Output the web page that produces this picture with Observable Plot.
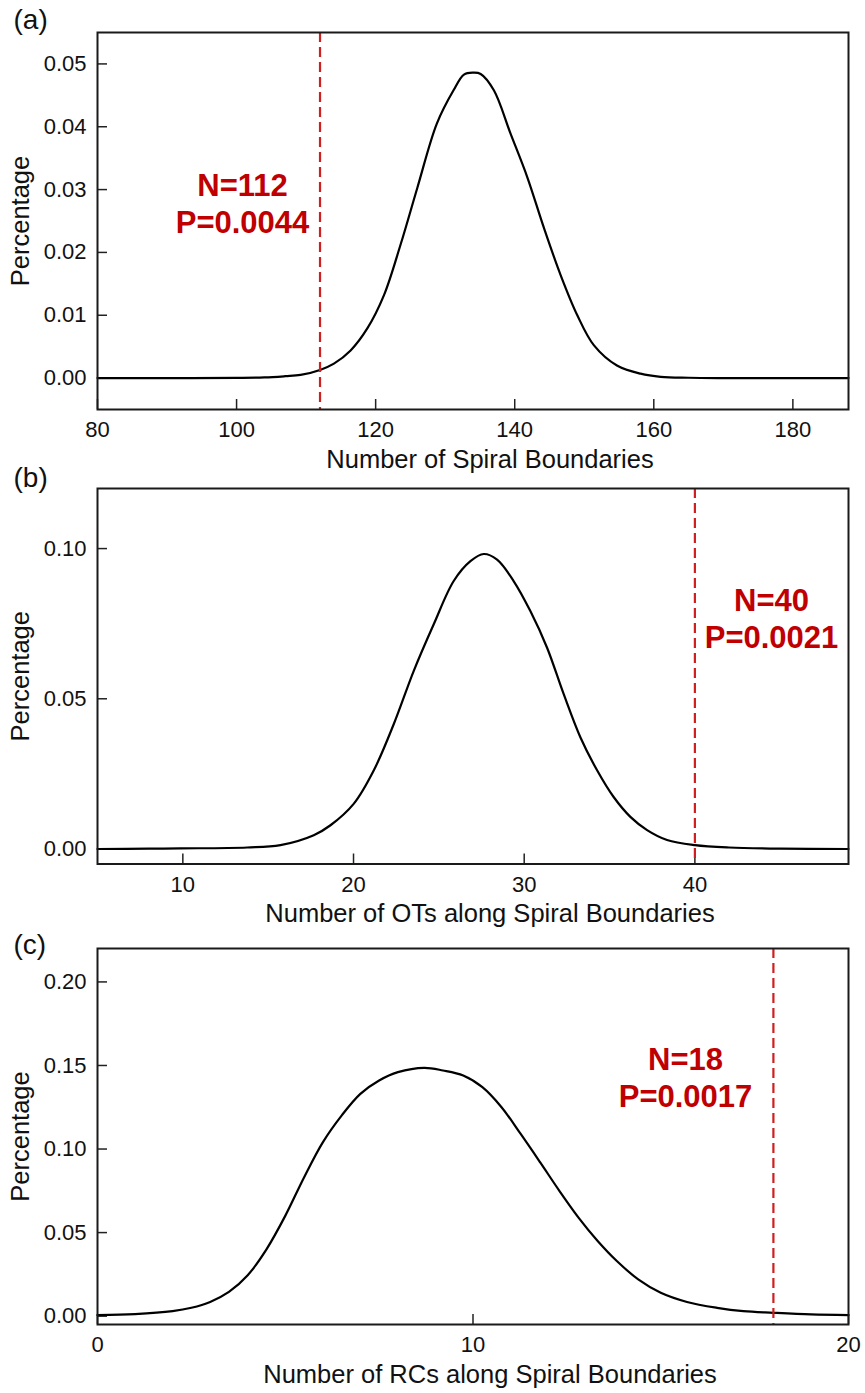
<!DOCTYPE html>
<html><head><meta charset="utf-8">
<script src="https://cdn.jsdelivr.net/npm/d3@7"></script>
<script src="https://cdn.jsdelivr.net/npm/@observablehq/plot@0.6"></script>
<style>
body{margin:0;background:#fff;}
#root{width:865px;height:1393px;position:relative;background:#fff;font-family:"Liberation Sans",Arial,sans-serif;}
#root > div{position:absolute;left:0;}
#root svg{display:block;overflow:visible;}
</style></head><body><div id="root"></div>
<script>
// ---- Panel (a): Number of Spiral Boundaries ----
const spiralX   = [80, 90, 100, 104, 107, 109.2, 112, 114, 116.4, 118.8, 121.2, 123.6, 126, 128.8, 131.2, 132.7, 134, 135.1, 137, 139.4, 141.8, 144.2, 146.6, 149, 151.4, 154.7, 158.1, 161, 165, 170, 188];
const spiralPct = [0, 0, 0.00003, 0.0001, 0.0003, 0.0005, 0.0013, 0.0023, 0.0044, 0.0079, 0.0132, 0.0213, 0.0303, 0.0405, 0.0458, 0.0483, 0.0486, 0.0484, 0.0458, 0.0389, 0.0320, 0.0239, 0.0164, 0.0100, 0.0052, 0.0020, 0.0007, 0.0002, 0.00005, 0, 0];
const spiralN = 112, spiralP = "0.0044";

// ---- Panel (b): Number of OTs along Spiral Boundaries ----
const otX   = [5, 8, 9.86, 13.77, 15.72, 17.67, 18.65, 20.02, 21.19, 22.36, 23.53, 24.70, 25.87, 26.85, 27.63, 28.41, 29.38, 30.36, 31.34, 32.31, 33.29, 34.27, 35.24, 36.22, 37.2, 38.37, 40, 42, 45, 49];
const otPct = [0, 0.0001, 0.0002, 0.0005, 0.0013, 0.0046, 0.0079, 0.0151, 0.0262, 0.0416, 0.0593, 0.0748, 0.0892, 0.0958, 0.0982, 0.0963, 0.0892, 0.0792, 0.0670, 0.0516, 0.0372, 0.0262, 0.0173, 0.0107, 0.0063, 0.0030, 0.0013, 0.0005, 0.0001, 0];
const otN = 40, otP = "0.0021";

// ---- Panel (c): Number of RCs along Spiral Boundaries ----
const rcX   = [0, 1, 2, 2.5, 3, 3.5, 4, 4.5, 5, 5.5, 6, 6.5, 7, 7.5, 8, 8.7, 9.2, 9.74, 10.25, 10.76, 11.27, 11.79, 12.3, 12.81, 13.32, 13.83, 14.4, 15.0, 15.7, 16.5, 17.2, 18, 19, 20];
const rcPct = [0.0006, 0.0012, 0.003, 0.005, 0.0085, 0.0145, 0.0245, 0.040, 0.060, 0.083, 0.104, 0.120, 0.133, 0.141, 0.146, 0.1486, 0.147, 0.144, 0.137, 0.125, 0.109, 0.092, 0.075, 0.059, 0.045, 0.033, 0.022, 0.014, 0.0085, 0.005, 0.003, 0.002, 0.001, 0.0006];
const rcN = 18, rcP = "0.0017";

// ---- axis ticks / labels ----
const aXTicks = [80, 100, 120, 140, 160, 180], aYTicks = [0, 0.01, 0.02, 0.03, 0.04, 0.05];
const bXTicks = [10, 20, 30, 40], bYTicks = [0, 0.05, 0.10];
const cXTicks = [0, 10, 20], cYTicks = [0, 0.05, 0.10, 0.15, 0.20];
const aXLabel = "Number of Spiral Boundaries";
const bXLabel = "Number of OTs along Spiral Boundaries";
const cXLabel = "Number of RCs along Spiral Boundaries";
const yLabel = "Percentage";

const FONT = '"Liberation Sans", Arial, sans-serif';
const RED_TEXT = "#c00000", RED_LINE = "#d01f1f";

function panel(c) {
  const data = c.xs.map((x, i) => ({x, y: c.ys[i]}));
  return Plot.plot({
    width: 865, height: c.height,
    marginLeft: 97, marginRight: 17, marginTop: c.mTop, marginBottom: c.mBottom,
    style: {fontFamily: FONT, background: "transparent", overflow: "visible"},
    x: {domain: c.xDomain},
    y: {domain: c.yDomain},
    marks: [
      Plot.axisY({ticks: c.yTicks, tickSize: -10, fill: "none", label: null, stroke: "#222", strokeWidth: 1.5}),
      Plot.axisY({ticks: c.yTicks, tickSize: 0, tickPadding: 11, tickFormat: ".2f", label: null, fontSize: 22, fill: "#111"}),
      Plot.axisX({ticks: c.xTicks, tickSize: -10, fill: "none", label: null, stroke: "#222", strokeWidth: 1.5}),
      Plot.axisX({ticks: c.xTicks, tickSize: 0, tickPadding: 12, tickFormat: d => String(d), label: null, fontSize: 22, fill: "#111"}),
      Plot.line(data, {x: "x", y: "y", stroke: "#000", strokeWidth: 2.2, curve: "catmull-rom"}),
      Plot.ruleX([c.n], {stroke: RED_LINE, strokeWidth: 2.2, strokeDasharray: "10,5"}),
      Plot.frame({stroke: "#1a1a1a", strokeWidth: 2}),
      Plot.text([`N=${c.n}\nP=${c.p}`], {frameAnchor: "top-left", dx: c.annDx, dy: c.annDy, textAnchor: "middle", lineAnchor: "middle", lineHeight: 1.19, fontSize: 31, fontWeight: "bold", fill: RED_TEXT}),
      Plot.text([c.tag], {frameAnchor: "top-left", dx: -84, dy: c.tagDy, textAnchor: "start", lineAnchor: "middle", fontSize: 28, fill: "#111"}),
      Plot.text([c.xLabel], {frameAnchor: "bottom", dx: 17, dy: 50, textAnchor: "middle", lineAnchor: "middle", fontSize: 25.5, fill: "#111"}),
      Plot.text([yLabel], {frameAnchor: "left", dx: -77, rotate: -90, textAnchor: "middle", lineAnchor: "middle", fontSize: 25.5, fill: "#111"})
    ]
  });
}

const root = document.getElementById("root");
const panels = [
  {top: 0, height: 465, mTop: 32, mBottom: 56, xs: spiralX, ys: spiralPct, xDomain: [80, 188], yDomain: [-0.005, 0.055], xTicks: aXTicks, yTicks: aYTicks, xLabel: aXLabel, n: spiralN, p: spiralP, annDx: 145, annDy: 170, tag: "(a)", tagDy: -12},
  {top: 465, height: 472, mTop: 23, mBottom: 73.5, xs: otX, ys: otPct, xDomain: [5, 49], yDomain: [-0.005, 0.12], xTicks: bXTicks, yTicks: bYTicks, xLabel: bXLabel, n: otN, p: otP, annDx: 674, annDy: 129.6, tag: "(b)", tagDy: -10},
  {top: 925, height: 468, mTop: 23, mBottom: 69, xs: rcX, ys: rcPct, xDomain: [0, 20], yDomain: [-0.005, 0.22], xTicks: cXTicks, yTicks: cYTicks, xLabel: cXLabel, n: rcN, p: rcP, annDx: 588, annDy: 128.6, tag: "(c)", tagDy: -3}
];
for (const c of panels) {
  const wrap = document.createElement("div");
  wrap.style.top = c.top + "px";
  wrap.appendChild(panel(c));
  root.appendChild(wrap);
}
</script>
</body></html>
